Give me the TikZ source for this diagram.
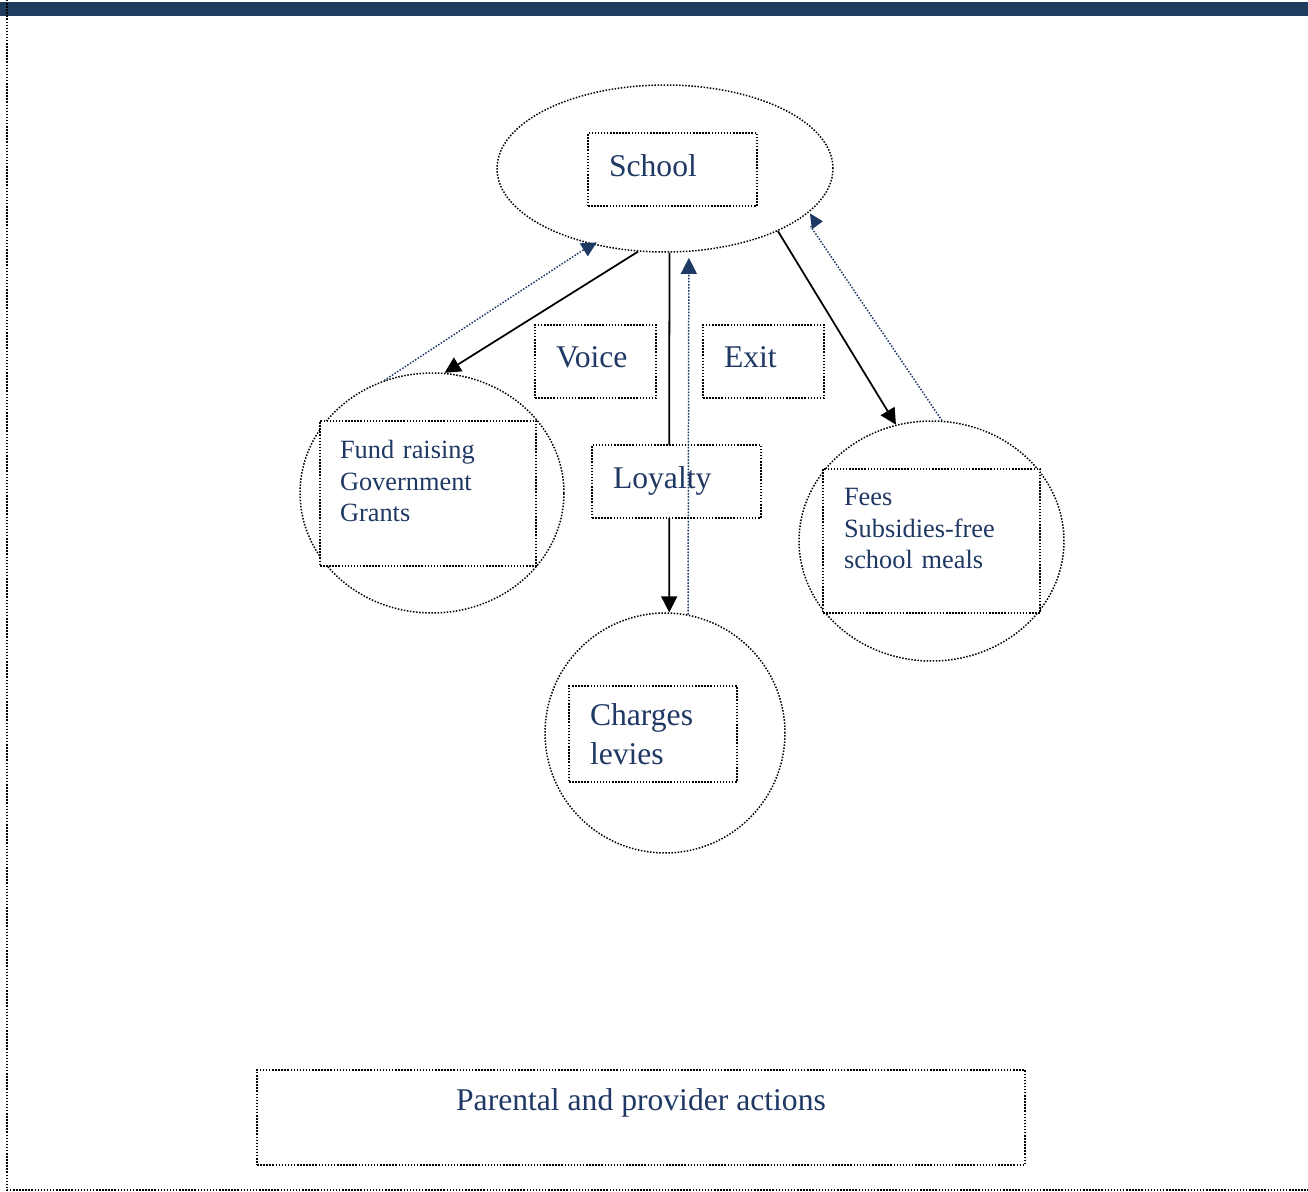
\documentclass[tikz,border=0pt]{standalone}
\usepackage{fontspec}
\setmainfont{Liberation Serif}
\usepackage{tikz}
\usetikzlibrary{arrows.meta,shapes.geometric}
\definecolor{inkblue}{RGB}{31,56,100}
\definecolor{barblue}{RGB}{31,59,94}

\begin{document}
\begin{tikzpicture}[x=0.02cm,y=-0.02cm,>={Triangle[length=0.32cm,width=0.32cm]}]
  \tikzstyle{dotline}=[line width=0.85pt,dash pattern=on 0.85pt off 0.9pt]
  \tikzstyle{school_shape}=[ellipse,draw=black,dotline,
                                    minimum width=6.72cm,
                                    minimum height=3.34cm]
  \tikzstyle{actor_shape}=[ellipse,draw=black,dotline,
                                    minimum width=5.28cm,
                                    minimum height=4.8cm]
  \tikzstyle{plain_box}=[rectangle,draw=black,dotline,
                                    fill=white,
                                    text=inkblue,
                                    align=left]
  \tikzstyle{label_box}=[plain_box,
                                    font=\fontsize{18}{22}\selectfont,
                                    inner xsep=0.42cm,
                                    minimum height=1.46cm,
                                    text depth=5pt]
  \tikzstyle{money_box}=[plain_box,
                                    font=\fontsize{15}{18}\selectfont,
                                    inner xsep=0.4cm,
                                    minimum height=2.9cm,
                                    text depth=50pt]
  \tikzstyle{action}=[->,line width=1pt,draw=black]
  \tikzstyle{feedback_line}=[draw=inkblue,dotline]
  \tikzstyle{feedback}=[->,draw=inkblue,fill=inkblue,dotline]
  \useasboundingbox (0,0) rectangle (1308,1191);
  %Page frame
  \fill[barblue] (0,2) rectangle (1308,16);
  \draw[dotline] (7,0) -- (7,1190) -- (1308,1190);
  %School and the three parties
  \node[school_shape] (school) [shift={(665,168.5)}] {};
  \node[actor_shape] (fund) [shift={(432,493)}] {};
  \node[actor_shape,minimum width=5.3cm] (fees) [shift={(931.5,541)}] {};
  \node[actor_shape,minimum width=4.8cm] (charges) [shift={(665,733)}] {};
  %Actions from the school
  \path (school.252) edge[action] (fund.84)
        (school.273) edge[action] (charges.88)
        (school.331) edge[action] (fees.107);
  %Text boxes
  \node[label_box,text width=2.54cm] (schoolbox) [shift={(672.5,169.5)}] {School};
  \node[label_box,text width=1.58cm] (voice) [shift={(595.5,361.5)}] {Voice};
  \node[label_box,text width=1.58cm] (exit) [shift={(763.5,361.5)}] {Exit};
  \node[label_box,text width=2.54cm] (loyalty) [shift={(676.5,481.5)}] {Loyalty};
  \node[money_box,text width=3.52cm] (fundbox) [shift={(428,493.5)}] {Fund raising\\Government\\Grants};
  \node[money_box,text width=3.5cm,inner xsep=0.42cm,minimum height=2.88cm] (feesbox) [shift={(931.5,541)}] {Fees\\Subsidies-free\\school meals};
  \node[plain_box,font=\fontsize{18}{22}\selectfont,inner xsep=0.42cm,text width=2.52cm,
        minimum height=1.92cm] (chargesbox) [shift={(653,734)}] {Charges\\levies};
  \node[plain_box,align=center,font=\fontsize{18}{22}\selectfont,minimum width=15.36cm,
        minimum height=1.9cm,text depth=21pt] (actions) [shift={(641,1117.5)}] {Parental and provider actions};
  %Feedback to the school
  \path (fund.113) edge[feedback_line] (school.226)
        (fees.85) edge[feedback_line,shorten >=0.24cm] (school.341)
        (charges.79) edge[feedback,shorten >=0.12cm] (school.286);
  \fill[inkblue] ([shift={(-12,-1)}]school.226) -- ([shift={(5,-2)}]school.226)
                 -- ([shift={(-4,12)}]school.226) -- cycle;
  \fill[inkblue] ([shift={(6,-3)}]school.341) -- ([shift={(19,5)}]school.341)
                 -- ([shift={(8,13)}]school.341) -- cycle;
\end{tikzpicture}
\end{document}
